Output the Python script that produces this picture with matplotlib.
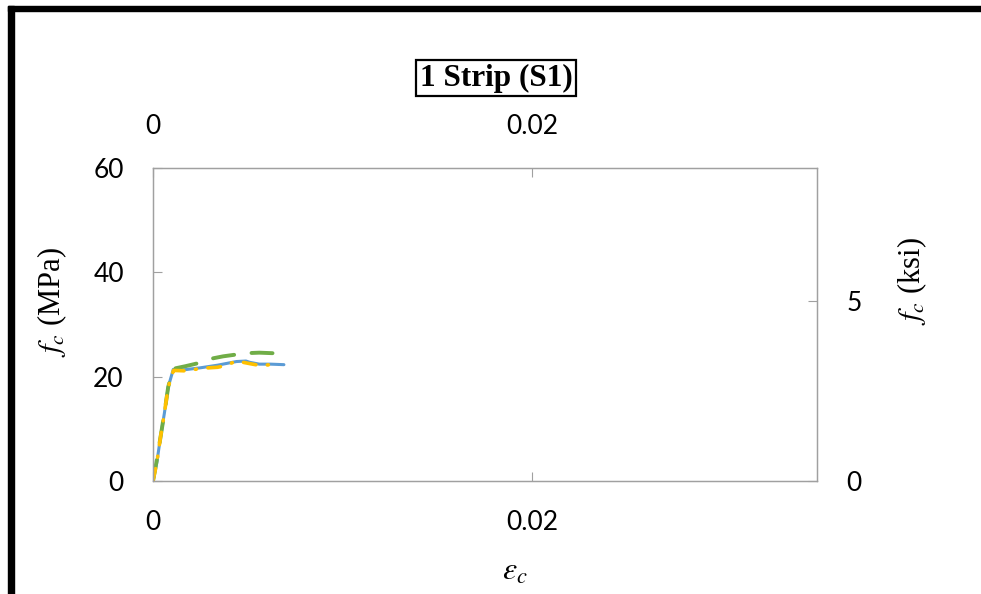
import matplotlib
matplotlib.use("Agg")
import matplotlib.pyplot as plt
from matplotlib.patches import Rectangle

# stress-strain data (strain, MPa)
strain_blue = [0, 0.0002, 0.0004, 0.0006, 0.0008, 0.00107, 0.0016, 0.0025, 0.0034,
               0.0044, 0.0049, 0.0051, 0.0056, 0.0062, 0.0069]
stress_blue = [0, 3.5, 8.5, 13, 18, 21.4, 21.3, 21.7, 22.2, 22.9, 23.0, 22.75, 22.4, 22.4, 22.3]

strain_green = [0, 0.0002, 0.0004, 0.0006, 0.0008, 0.00105, 0.0017, 0.0024, 0.003,
                0.0037, 0.0043, 0.0049, 0.0056, 0.0063]
stress_green = [0, 4, 8.5, 13, 18, 21.5, 22.0, 22.6, 23.4, 23.9, 24.2, 24.5, 24.6, 24.5]

strain_yellow = [0, 0.0002, 0.0004, 0.0006, 0.0008, 0.00108, 0.0018, 0.0025, 0.0034,
                 0.0038, 0.0044, 0.0051, 0.0057, 0.0064]
stress_yellow = [0, 3.5, 8.5, 13, 18, 21.2, 21.1, 21.6, 21.8, 22.1, 23.0, 22.5, 22.1, 22.4]

x_ticks = [0, 0.02]
x_labels = ["0", "0.02"]
y_ticks = [0, 20, 40, 60]
y_labels = ["0", "20", "40", "60"]
ksi_ticks = [0, 5]
ksi_labels = ["0", "5"]
MPA_PER_KSI = 6.89476

plt.rcParams['mathtext.fontset'] = 'stix'
plt.rcParams['font.family'] = 'Lato'
plt.rcParams['font.size'] = 19
axis_grey = '#a0a0a0'

fig = plt.figure(figsize=(9.81, 5.94), dpi=100)
ax = fig.add_axes([153/981, 113/594, 664/981, 313/594])

ax.plot(strain_blue, stress_blue, color='#5b9bd5', lw=2.2, solid_capstyle='round')
ax.plot(strain_green, stress_green, color='#70ad47', lw=2.8,
        linestyle=(0, (5.5, 4.5)), dash_capstyle='round')
ax.plot(strain_yellow, stress_yellow, color='#ffc000', lw=2.6,
        linestyle=(0, (3.5, 3.2, 0.3, 3.2)), dash_capstyle='round')

ax.set_xlim(0, 0.035)
ax.set_ylim(0, 60)
ax.set_xticks(x_ticks, x_labels)
ax.set_yticks(y_ticks, y_labels)
ax.tick_params(axis='x', direction='in', length=6.5, color=axis_grey, width=0.8,
               top=True, labeltop=True, pad=21)
ax.tick_params(axis='y', direction='in', length=6.5, color=axis_grey, width=0.8, pad=21)

# right axis in ksi
ax2 = ax.twinx()
ax2.set_ylim(0, 60 / MPA_PER_KSI)
ax2.set_yticks(ksi_ticks, ksi_labels)
ax2.tick_params(axis='y', direction='in', length=6.5, color=axis_grey, width=0.8, pad=21)

for a in (ax, ax2):
    for sp in a.spines.values():
        sp.set_color(axis_grey)
        sp.set_linewidth(0.9)

# axis titles
fig.text(52/981, 1 - 302/594, r'$f_c$ (MPa)', rotation=90, ha='center', va='center',
         fontsize=22, family='Liberation Serif')
fig.text(912/981, 1 - 281/594, r'$f_c$ (ksi)', rotation=90, ha='center', va='center',
         fontsize=22, family='Liberation Serif')
fig.text(515/981, 1 - 571/594, r'$\varepsilon_c$', ha='center', va='center', fontsize=23)

# boxed title
fig.text(496/981, 1 - 78/594, '1 Strip (S1)', ha='center', va='center', fontsize=22.5,
         family='Liberation Serif', weight='bold',
         bbox=dict(boxstyle='square,pad=0.12', fc='white', ec='black', lw=1.6))

# thick frame on left and top
fig.patches.append(Rectangle((8/981, 0), 6/981, 1 - 6/594, transform=fig.transFigure,
                             color='black', zorder=5))
fig.patches.append(Rectangle((8/981, 1 - 11/594), 1 - 8/981, 5/594, transform=fig.transFigure,
                             color='black', zorder=5))

fig.savefig('out.png', dpi=100)
